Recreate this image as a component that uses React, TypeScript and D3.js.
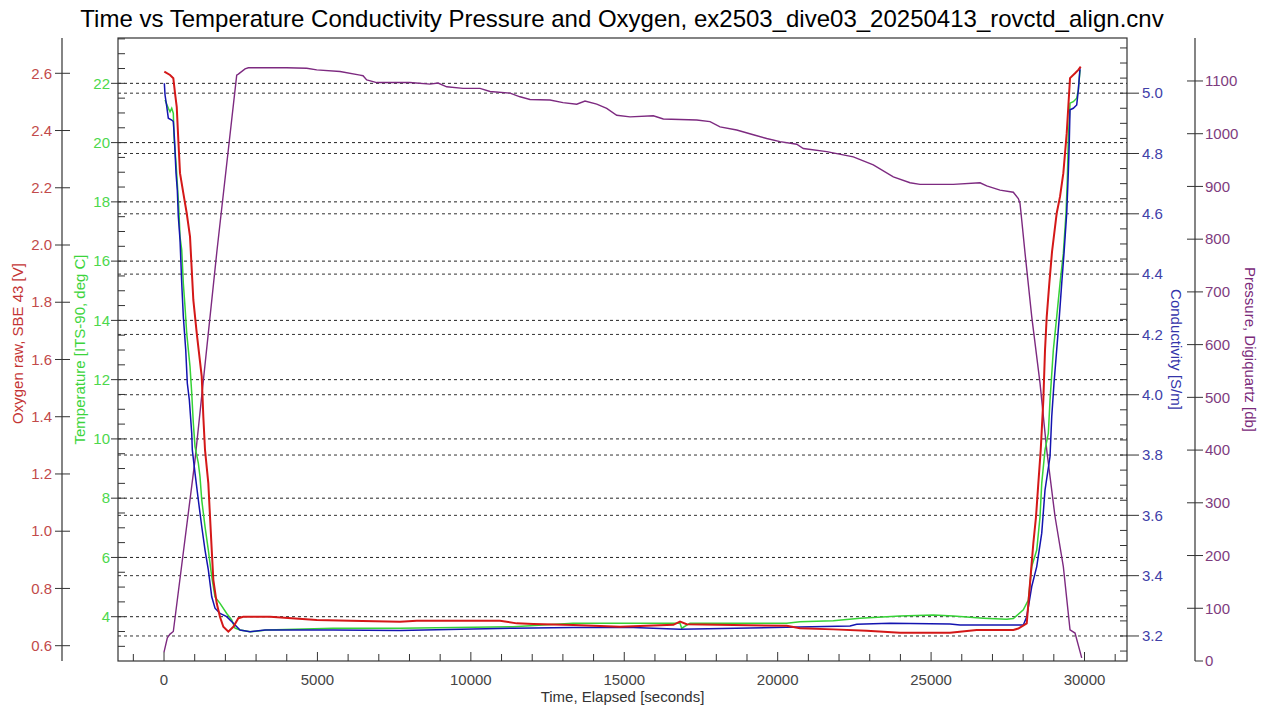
import * as d3 from 'd3';
import React from 'react';

// time, elapsed [s] and values for each sensor
const timeO = [10,196,303,359,414,466,521,629,740,847,955,1066,1229,1281,1336,1444,1499,1555,1607,1718,1825,1933,2096,2259,2422,2584,3455,4977,6062,7692,8236,10951,11495,12036,13340,14862,16599,16817,17035,18554,20294,20728,21814,22902,23987,25617,26487,27680,27843,28117,28224,28332,28420,28495,28573,28658,28713,28769,28853,28941,29094,29202,29310,29420,29472,29528,29691,29799,29877];
const oxygen = [2.606,2.594,2.583,2.530,2.483,2.367,2.251,2.181,2.111,2.029,1.808,1.692,1.540,1.400,1.284,1.167,1.051,0.934,0.830,0.748,0.700,0.666,0.649,0.666,0.696,0.701,0.701,0.690,0.687,0.684,0.687,0.687,0.678,0.676,0.672,0.666,0.673,0.684,0.675,0.672,0.670,0.661,0.657,0.652,0.645,0.645,0.655,0.655,0.660,0.678,0.818,0.958,1.051,1.167,1.284,1.458,1.633,1.750,1.866,1.976,2.111,2.169,2.251,2.390,2.483,2.583,2.600,2.612,2.623];

const timeT = [33,140,196,251,303,326,391,433,479,521,577,629,684,740,847,903,955,1010,1118,1173,1229,1336,1444,1555,1662,1825,2043,2206,2314,2477,2803,3347,5508,7692,11374,13330,14862,16817,16872,17143,20294,20728,21814,22684,23987,25073,25724,26702,27465,27680,28006,28169,28280,28443,28550,28606,28713,28821,28876,28984,29094,29202,29310,29397,29440,29472,29528,29635,29746,29799,29854];
const temperature = [21.44,21.16,21.04,21.16,20.99,20.20,19.30,18.63,17.84,16.82,16.38,15.25,14.46,13.56,12.44,11.54,10.53,9.74,9.18,8.72,7.94,7.04,6.25,5.35,4.67,4.45,4.11,3.89,3.61,3.55,3.49,3.55,3.61,3.61,3.66,3.78,3.78,3.78,3.61,3.78,3.78,3.83,3.86,3.95,4.02,4.06,4.02,3.95,3.91,3.94,4.23,4.56,5.69,6.25,7.37,8.50,9.63,10.19,11.31,13.00,14.12,15.25,16.26,17.61,18.74,20.09,21.33,21.38,21.50,21.78,22.45];

const timeC = [10,33,88,140,251,303,336,391,433,466,521,577,629,707,759,825,903,922,1010,1118,1229,1336,1444,1555,1662,1825,2043,2259,2477,2803,3292,5508,7692,11374,13330,15295,16817,20294,22358,22576,23662,25617,25943,27680,28006,28117,28280,28443,28606,28713,28876,28932,29006,29094,29180,29258,29332,29420,29472,29505,29528,29635,29746,29799,29854];
const conductivity = [5.033,4.994,4.956,4.917,4.911,4.906,4.856,4.735,4.679,4.591,4.514,4.370,4.259,4.149,4.038,3.983,3.872,3.817,3.740,3.651,3.563,3.485,3.419,3.330,3.292,3.275,3.264,3.242,3.220,3.214,3.220,3.220,3.218,3.226,3.228,3.228,3.222,3.229,3.233,3.239,3.242,3.240,3.236,3.236,3.236,3.264,3.364,3.430,3.541,3.684,3.795,3.927,4.038,4.149,4.259,4.370,4.469,4.602,4.735,4.845,4.945,4.950,4.961,5.011,5.083];

const timeP = [0,108,196,303,1010,1727,2369,2422,2640,2748,3999,4651,4977,5736,6388,6486,6606,6932,8017,8669,8930,9213,9745,10299,10625,11277,11603,11928,12580,13004,13450,13721,14102,14428,14754,15188,15947,16273,17362,17795,18121,18665,19206,19643,20076,20620,20836,21598,22465,23117,23769,24313,24639,25724,26595,26813,27247,27680,27843,27898,27954,28061,28280,28550,28769,29039,29310,29528,29691,29909];
const pressure = [17,44,51,56,381,779,1111,1113,1123,1125,1125,1124,1121,1118,1111,1110,1102,1097,1097,1094,1096,1089,1086,1086,1080,1077,1070,1065,1064,1059,1056,1062,1056,1048,1035,1032,1034,1028,1026,1023,1013,1007,998,991,985,980,972,966,956,941,918,907,904,904,907,901,893,889,877,868,836,774,653,527,400,274,179,59,53,6];

// tick labels
const timeTicks = [0, 5000, 10000, 15000, 20000, 25000, 30000];
const oxygenTicks = ['0.6','0.8','1.0','1.2','1.4','1.6','1.8','2.0','2.2','2.4','2.6'];
const tempTicks = [4, 6, 8, 10, 12, 14, 16, 18, 20, 22];
const condTicks = ['3.2','3.4','3.6','3.8','4.0','4.2','4.4','4.6','4.8','5.0'];
const pressureTicks = [0, 100, 200, 300, 400, 500, 600, 700, 800, 900, 1000, 1100];

const title = 'Time vs Temperature Conductivity Pressure and Oxygen, ex2503_dive03_20250413_rovctd_align.cnv';

const W = 1268, H = 710;
const L = 118, R = 1127, T = 38, B = 661;
const FONT = "'Liberation Sans', Arial, sans-serif";

function App() {
    const x = d3.scaleLinear().domain([-1500, 31385]).range([L, R]);
    const yO = d3.scaleLinear().domain([0.5465, 2.7233]).range([B, T]);
    const yT = d3.scaleLinear().domain([2.505, 23.53]).range([B, T]);
    const yC = d3.scaleLinear().domain([3.117, 5.183]).range([B, T]);
    const yP = d3.scaleLinear().domain([0, 1181.5]).range([B, T]);

    const path = (times: number[], vals: number[], y: d3.ScaleLinear<number, number>) =>
        d3.line<number>().x((_, i) => x(times[i])).y(d => y(d))(vals) || '';

    const minorT = d3.range(3, 23.6, 0.5);
    const minorC = d3.range(3.15, 5.18, 0.05);
    const minorX = d3.range(-1000, 31001, 1000);
    const mid = (T + B) / 2;

    return (
        <div style={{ position: 'absolute', left: 0, top: 0 }}>
            <svg width={W} height={H} style={{ display: 'block', background: '#fff' }} fontFamily={FONT}>
                <text x={622} y={27} textAnchor="middle" fontSize={24} fill="#000">{title}</text>

                {/* dashed grid lines, temperature then conductivity */}
                {tempTicks.map(t => (
                    <line key={'gt' + t} x1={L} x2={R} y1={yT(t)} y2={yT(t)} stroke="#222" strokeDasharray="3,3" />
                ))}
                {condTicks.map(c => (
                    <line key={'gc' + c} x1={L} x2={R} y1={yC(+c)} y2={yC(+c)} stroke="#333" strokeDasharray="3,3" />
                ))}

                {/* data */}
                <path d={path(timeP, pressure, yP)} fill="none" stroke="#7d2a80" strokeWidth={1.4} />
                <path d={path(timeT, temperature, yT)} fill="none" stroke="#36d236" strokeWidth={1.5} />
                <path d={path(timeC, conductivity, yC)} fill="none" stroke="#1414b0" strokeWidth={1.5} />
                <path d={path(timeO, oxygen, yO)} fill="none" stroke="#d41818" strokeWidth={2} />

                {/* plot frame */}
                <rect x={L} y={T} width={R - L} height={B - T} fill="none" stroke="#333" strokeWidth={1.2} />

                {/* x axis */}
                {minorX.map(t => (
                    <line key={'mx' + t} x1={x(t)} x2={x(t)} y1={B} y2={B - (t % 5000 === 0 ? 9 : 7)} stroke="#333" />
                ))}
                {timeTicks.map(t => (
                    <text key={'xt' + t} x={x(t)} y={685} textAnchor="middle" fontSize={15} fill="#444">{t}</text>
                ))}
                <text x={(L + R) / 2} y={702} textAnchor="middle" fontSize={15} fill="#333">Time, Elapsed [seconds]</text>

                {/* temperature axis (plot left edge) */}
                {minorT.map(t => (
                    <line key={'mt' + t} x1={L} x2={L + 7} y1={yT(t)} y2={yT(t)} stroke="#333" />
                ))}
                {tempTicks.map(t => (
                    <g key={'tt' + t}>
                        <line x1={L - 7} x2={L} y1={yT(t)} y2={yT(t)} stroke="#333" />
                        <text x={110} y={yT(t)} dy="0.35em" textAnchor="end" fontSize={15} fill="#4cd84c">{t}</text>
                    </g>
                ))}
                <text transform={`translate(85,${mid}) rotate(-90)`} textAnchor="middle" fontSize={15} fill="#3cd43c">
                    Temperature [ITS-90, deg C]
                </text>

                {/* oxygen axis */}
                <line x1={62} x2={62} y1={T} y2={B} stroke="#333" strokeWidth={1.2} />
                {oxygenTicks.map(o => (
                    <g key={'ot' + o}>
                        <line x1={55} x2={70} y1={yO(+o)} y2={yO(+o)} stroke="#333" />
                        <text x={52} y={yO(+o)} dy="0.35em" textAnchor="end" fontSize={15} fill="#c24a4a">{o}</text>
                    </g>
                ))}
                <text transform={`translate(23,${mid - 6}) rotate(-90)`} textAnchor="middle" fontSize={15} fill="#c43434">
                    Oxygen raw, SBE 43 [V]
                </text>

                {/* conductivity axis (plot right edge) */}
                {minorC.map(c => (
                    <line key={'mc' + c} x1={R - 7} x2={R} y1={yC(c)} y2={yC(c)} stroke="#333" />
                ))}
                {condTicks.map(c => (
                    <g key={'ct' + c}>
                        <line x1={R} x2={R + 12} y1={yC(+c)} y2={yC(+c)} stroke="#333" />
                        <text x={1142} y={yC(+c)} dy="0.35em" fontSize={15} fill="#4040a8">{c}</text>
                    </g>
                ))}
                <text transform={`translate(1171,${mid}) rotate(90)`} textAnchor="middle" fontSize={15} fill="#3434aa">
                    Conductivity [S/m]
                </text>

                {/* pressure axis */}
                <line x1={1195} x2={1195} y1={T} y2={B} stroke="#333" strokeWidth={1.2} />
                {pressureTicks.map(p => (
                    <g key={'pt' + p}>
                        <line x1={p === 0 ? 1195 : 1187} x2={1203} y1={yP(p)} y2={yP(p)} stroke="#333" />
                        <text x={1205} y={yP(p)} dy="0.35em" fontSize={15} fill="#7e3c7e">{p}</text>
                    </g>
                ))}
                <text transform={`translate(1245,${mid}) rotate(90)`} textAnchor="middle" fontSize={15} fill="#7a2a7a">
                    Pressure, Digiquartz [db]
                </text>
            </svg>
        </div>
    );
}

export default App;
